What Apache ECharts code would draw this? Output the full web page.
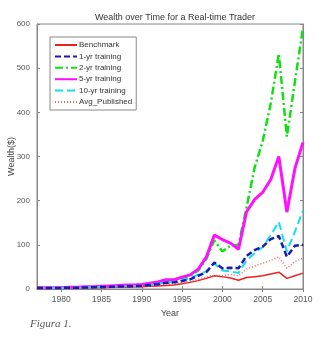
<!DOCTYPE html>
<html><head><meta charset="utf-8">
<script src="https://cdn.jsdelivr.net/npm/echarts@6/dist/echarts.min.js"></script>
<style>html,body{margin:0;padding:0;background:#fff}#c{width:323px;height:337px}</style>
</head><body><div id="c"></div>
<script>
const years = [1977,1978,1979,1980,1981,1982,1983,1984,1985,1986,1987,1988,1989,1990,1991,1992,1993,1994,1995,1996,1997,1998,1999,2000,2001,2002,2003,2004,2005,2006,2007,2008,2009,2010];
const benchmark = [1,1,1.5,1.5,2,2,2.5,3,3,3.5,4,4,4.5,5,6,7,8,9,12,15,19,24,30,28,25,20,26,28,30,34,38,24,30,36];
const oneYr = [2,2,2,2.5,3,3,3.5,4,4.5,5,5.5,6,6.5,7,9,11,14,15,18,22,30,38,60,47,48,47,75,88,96,113,120,73,98,100];
const twoYr = [2,2,2.5,2.5,3,3.5,4,4.5,5,5.5,6,7,7.5,8,12,15,19,20,25,30,42,68,110,85,98,100,185,275,335,420,533,345,470,592];
const fiveYr = [3,3,3,3,4,4,5,5,6,7,8,9,9,10,13,16,21,21,27,32,45,72,122,112,104,90,175,203,219,248,300,174,273,332];
const tenYr = [2,2,2,2.5,3,3,3.5,4,4.5,5,5.5,6,6.5,7,10,12,15,16,20,25,32,40,58,42,40,36,65,81,95,122,152,85,130,178];
const avgPub = [1.5,1.5,2,2,2.5,2.5,3,3,3.5,4,4.5,5,5.5,6,7,9,11,12,14,17,22,27,31,30,33,30,45,52,58,65,73,47,62,70];
const xTicks = [1980,1985,1990,1995,2000,2005,2010];
const yTicks = [0,100,200,300,400,500,600];
const names = ['Benchmark','1-yr training','2-yr training','5-yr training','10-yr training','Avg_Published'];

const pair = arr => years.map((y,i)=>[y,arr[i]]);
const styles = [
  {color:'#ee2020', width:1.5, type:'solid'},
  {color:'#1a1ab8', width:2.5, type:[6,3]},
  {color:'#10e010', width:2.5, type:[8,3,2,3]},
  {color:'#ff10ff', width:3, type:'solid'},
  {color:'#10e0f0', width:2, type:[8,4]},
  {color:'#e06a6a', width:1.5, type:[1,2]}
];
const datas = [benchmark, oneYr, twoYr, fiveYr, tenYr, avgPub];
const series = datas.map((d,i)=>({
  name:names[i], type:'line', data:pair(d), symbol:'none', animation:false,
  lineStyle:{color:styles[i].color, width:styles[i].width, type:styles[i].type},
  itemStyle:{color:styles[i].color}, z: i===1?3:2
}));
const font = 'Liberation Sans, Arial, sans-serif';
const chart = echarts.init(document.getElementById('c'));
chart.setOption({
  backgroundColor:'#fff',
  animation:false,
  title:{text:'Wealth over Time for a Real-time Trader', left:170, top:8, textAlign:'center',
    textStyle:{fontSize:9, fontWeight:'normal', color:'#333', fontFamily:font}},
  grid:{left:37, right:20, top:24, bottom:48, show:true, borderColor:'#888', borderWidth:1, outerBoundsMode:'none', containLabel:false},
  legend:{orient:'vertical', left:50, top:37, itemWidth:22, itemHeight:6, itemGap:3.4,
    padding:[4,4,4,4], backgroundColor:'#fff', borderColor:'#888', borderWidth:1,
    itemStyle:{opacity:0},
    textStyle:{fontSize:8, color:'#333', fontFamily:font, padding:[0,0,0,-3]}, data:names},
  xAxis:[{type:'value', min:1977, max:2010, name:'Year', nameLocation:'middle', nameGap:20, nameMoveOverlap:false,
    nameTextStyle:{fontSize:9, color:'#444', fontFamily:font},
    axisLine:{show:true, lineStyle:{color:'#888'}}, splitLine:{show:false},
    axisTick:{inside:true, length:3, customValues:xTicks, lineStyle:{color:'#888'}},
    axisLabel:{fontSize:8.5, color:'#555', fontFamily:font, customValues:xTicks, margin:6, formatter:v=>String(v)}},
    {type:'value', position:'top', min:1977, max:2010, axisLine:{show:true, lineStyle:{color:'#888'}},
    splitLine:{show:false}, axisTick:{inside:true, length:3, customValues:xTicks, lineStyle:{color:'#888'}},
    axisLabel:{show:false}}],
  yAxis:[{type:'value', min:0, max:600, interval:100, name:'Wealth($)', nameLocation:'middle', nameGap:21, nameMoveOverlap:false,
    nameTextStyle:{fontSize:9, color:'#444', fontFamily:font},
    axisLine:{show:true, lineStyle:{color:'#888'}}, splitLine:{show:false},
    axisTick:{show:true, inside:true, length:3, lineStyle:{color:'#888'}},
    axisLabel:{fontSize:8, color:'#555', fontFamily:font, margin:7, formatter:v=>String(v)}},
    {type:'value', position:'right', min:0, max:600, interval:100,
    axisLine:{show:true, lineStyle:{color:'#888'}}, splitLine:{show:false},
    axisTick:{show:true, inside:true, length:3, lineStyle:{color:'#888'}}, axisLabel:{show:false}}],
  graphic:[{type:'text', left:30, top:319, style:{text:'Figura 1.', font:'italic 11px "Liberation Serif", "DejaVu Serif", serif', fill:'#555'}}],
  series:series
});
</script></body></html>
